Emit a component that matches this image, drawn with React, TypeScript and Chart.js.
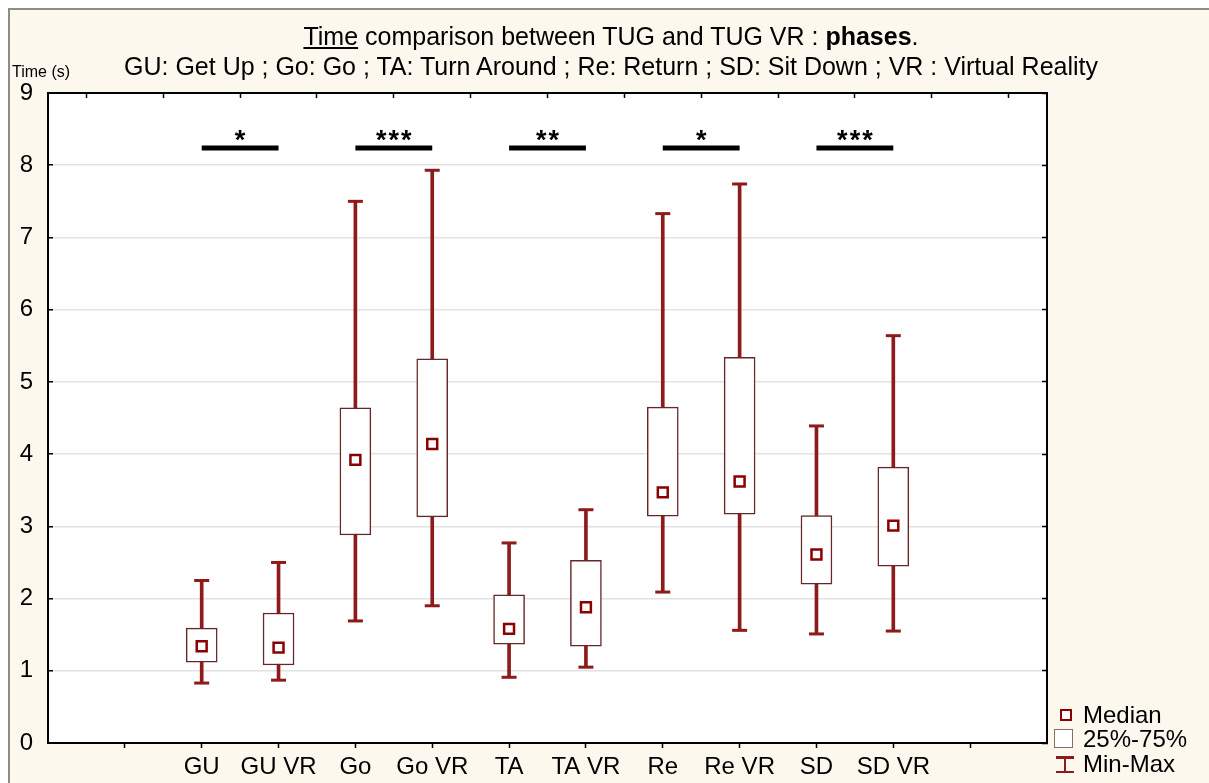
import React, { useEffect, useRef } from 'react';
import { Chart, registerables } from 'chart.js';

Chart.register(...registerables);

// ---- data ----
const categories = ['GU', 'GU VR', 'Go', 'Go VR', 'TA', 'TA VR', 'Re', 'Re VR', 'SD', 'SD VR'];
const minValues = [0.83, 0.87, 1.69, 1.9, 0.91, 1.05, 2.09, 1.56, 1.51, 1.55];
const q1Values = [1.12, 1.08, 2.88, 3.13, 1.37, 1.34, 3.14, 3.17, 2.2, 2.45];
const medianValues = [1.34, 1.32, 3.92, 4.14, 1.58, 1.88, 3.47, 3.62, 2.61, 3.01];
const q3Values = [1.59, 1.8, 4.64, 5.32, 2.05, 2.53, 4.65, 5.34, 3.15, 3.82];
const maxValues = [2.25, 2.5, 7.5, 7.93, 2.77, 3.23, 7.33, 7.74, 4.39, 5.64];
const sigPairs = [[0, 1], [2, 3], [4, 5], [6, 7], [8, 9]];
const sigMarks = ['*', '***', '**', '*', '***'];
const sigLevel = 8.24;
const yMin = 0;
const yMax = 9;
const yStep = 1;
const titleLine2 = 'GU: Get Up ; Go: Go ; TA: Turn Around ; Re: Return ; SD: Sit Down ; VR : Virtual Reality';
const yAxisTitle = 'Time (s)';
const legendLabels = ['Median', '25%-75%', 'Min-Max'];

// axis slots: two empty slots before the first category, total 13 intervals
const firstSlot = 2;
const slotCount = categories.length + 3;

const SANS = '"Liberation Sans", Arial, sans-serif';
const RED = '#8e1b1b';
const MED = '#8b0000';
const BOXLINE = '#64282a';

const bgPlugin = {
  id: 'plotBg',
  beforeDraw(chart: any) {
    const { ctx, chartArea } = chart;
    ctx.save();
    ctx.fillStyle = '#ffffff';
    ctx.fillRect(chartArea.left, chartArea.top, chartArea.right - chartArea.left, chartArea.bottom - chartArea.top);
    ctx.restore();
  },
};

const sigPlugin = {
  id: 'sigMarks',
  afterDatasetsDraw(chart: any) {
    const { ctx } = chart;
    const xs = chart.scales.x;
    const ys = chart.scales.y;
    ctx.save();
    ctx.font = 'bold 27px "Liberation Sans", Arial, sans-serif';
    ctx.fillStyle = '#000';
    ctx.textAlign = 'center';
    ctx.textBaseline = 'alphabetic';
    try { (ctx as any).letterSpacing = '2px'; } catch (e) { /* ignore */ }
    sigPairs.forEach(([a, b], i) => {
      const cx = (xs.getPixelForValue(a + firstSlot) + xs.getPixelForValue(b + firstSlot)) / 2;
      const cy = ys.getPixelForValue(sigLevel);
      ctx.fillText(sigMarks[i], cx + 1, cy + 1);
    });
    ctx.restore();
  },
};

const innerTicks = (s: any) => {
  s.ticks = s.ticks.filter((t: any) => t.value > 0 && t.value < slotCount);
};

export default function App() {
  const ref = useRef<HTMLCanvasElement | null>(null);

  useEffect(() => {
    if (!ref.current) return;
    const xOf = (i: number) => i + firstSlot;
    const datasets: any[] = [
      {
        type: 'bar',
        data: categories.map((_, i) => ({ x: xOf(i), y: [minValues[i], maxValues[i]] })),
        backgroundColor: RED,
        borderWidth: 0,
        barThickness: 3,
        grouped: false,
        order: 4,
      },
      {
        type: 'bar',
        data: categories.map((_, i) => ({ x: xOf(i), y: [q1Values[i], q3Values[i]] })),
        backgroundColor: '#ffffff',
        borderColor: BOXLINE,
        borderWidth: 1.5,
        borderSkipped: false,
        barThickness: 31,
        grouped: false,
        order: 3,
      },
      {
        type: 'scatter',
        data: categories.flatMap((_, i) => [
          { x: xOf(i), y: minValues[i] },
          { x: xOf(i), y: maxValues[i] },
        ]),
        pointStyle: 'line',
        pointRadius: 7.5,
        pointBorderWidth: 3,
        pointBorderColor: RED,
        borderColor: RED,
        order: 2,
      },
      {
        type: 'scatter',
        data: categories.map((_, i) => ({ x: xOf(i), y: medianValues[i] })),
        pointStyle: 'rect',
        pointRadius: 7,
        pointBackgroundColor: '#ffffff',
        pointBorderColor: MED,
        pointBorderWidth: 2.5,
        order: 1,
      },
      ...sigPairs.map(([a, b]) => ({
        type: 'line',
        data: [
          { x: xOf(a), y: sigLevel },
          { x: xOf(b), y: sigLevel },
        ],
        borderColor: '#000',
        borderWidth: 5,
        borderCapStyle: 'butt',
        pointRadius: 0,
        order: 0,
      })),
    ];

    const chart = new Chart(ref.current, {
      type: 'bar',
      data: { datasets },
      options: {
        responsive: false,
        animation: false,
        devicePixelRatio: 1,
        layout: { padding: 0 },
        plugins: { legend: { display: false }, tooltip: { enabled: false }, title: { display: false } },
        scales: {
          x: {
            type: 'linear',
            position: 'bottom',
            min: 0,
            max: slotCount,
            offset: false,
            afterBuildTicks: innerTicks,
            ticks: {
              stepSize: 1,
              autoSkip: false,
              maxRotation: 0,
              padding: 5,
              color: '#000',
              font: { family: SANS, size: 24 },
              callback: (v: any) => categories[Number(v) - firstSlot] ?? '',
            },
            grid: { drawOnChartArea: false, drawTicks: true, tickLength: 5, tickColor: '#000', tickWidth: 1.5, offset: false },
            border: { display: true, color: '#000', width: 2 },
            afterFit: (s: any) => { s.height = 40; },
          },
          x2: {
            type: 'linear',
            axis: 'x',
            position: 'top',
            min: 0,
            max: slotCount,
            offset: false,
            afterBuildTicks: innerTicks,
            ticks: { stepSize: 1, display: false },
            grid: { drawOnChartArea: false, drawTicks: true, tickLength: -5, tickColor: '#000', tickWidth: 1.5 },
            border: { display: true, color: '#000', width: 2 },
            afterFit: (s: any) => { s.height = 93; },
          },
          y: {
            type: 'linear',
            position: 'left',
            min: yMin,
            max: yMax,
            ticks: { stepSize: yStep, padding: 20, color: '#000', font: { family: SANS, size: 24 } },
            grid: { color: '#e2e2e2', lineWidth: 1.5, drawTicks: true, tickLength: -5, tickColor: '#000', tickWidth: 1.5 },
            border: { display: true, color: '#000', width: 2 },
            afterFit: (s: any) => { s.width = 48; },
          },
          y2: {
            type: 'linear',
            axis: 'y',
            position: 'right',
            min: yMin,
            max: yMax,
            ticks: { stepSize: yStep, display: false },
            grid: { drawOnChartArea: false, drawTicks: true, tickLength: -5, tickColor: '#000', tickWidth: 1.5 },
            border: { display: true, color: '#000', width: 2 },
            afterFit: (s: any) => { s.width = 162; },
          },
        },
      } as any,
      plugins: [bgPlugin, sigPlugin],
    });
    return () => chart.destroy();
  }, []);

  const txt: React.CSSProperties = { position: 'fixed', fontFamily: SANS, color: '#000', whiteSpace: 'nowrap', margin: 0 };

  return (
    <div>
      <div
        style={{
          position: 'fixed', left: 8, top: 8, right: 0, bottom: 0,
          background: '#fdf8ed', borderLeft: '2px solid #8c8c8c', borderTop: '2px solid #8c8c8c',
        }}
      />
      <canvas ref={ref} width={1209} height={783} style={{ position: 'fixed', left: 0, top: 0 }} />
      <div style={{ ...txt, left: 0, width: 1222, top: 22, textAlign: 'center', fontSize: 25, lineHeight: '28px' }}>
        <u>Time</u> comparison between TUG and TUG VR : <b>phases</b>.
      </div>
      <div style={{ ...txt, left: 0, width: 1222, top: 52, textAlign: 'center', fontSize: 25, lineHeight: '28px' }}>
        {titleLine2}
      </div>
      <div style={{ ...txt, left: 12, top: 63, fontSize: 16, lineHeight: '18px' }}>{yAxisTitle}</div>

      {/* legend */}
      <div style={{ position: 'fixed', left: 1060, top: 709, width: 12, height: 12, boxSizing: 'border-box', border: `2.5px solid ${MED}`, background: '#fff' }} />
      <div style={{ ...txt, left: 1083, top: 701, fontSize: 24, lineHeight: '28px' }}>{legendLabels[0]}</div>
      <div style={{ position: 'fixed', left: 1054, top: 729, width: 19, height: 19, boxSizing: 'border-box', border: '1.5px solid #8a6a6a', background: '#fff' }} />
      <div style={{ ...txt, left: 1083, top: 725, fontSize: 24, lineHeight: '28px' }}>{legendLabels[1]}</div>
      <div style={{ position: 'fixed', left: 1056, top: 756, width: 18, height: 2.5, background: RED }} />
      <div style={{ position: 'fixed', left: 1063.75, top: 756, width: 2.5, height: 17, background: RED }} />
      <div style={{ position: 'fixed', left: 1056, top: 770.5, width: 18, height: 2.5, background: RED }} />
      <div style={{ ...txt, left: 1083, top: 750, fontSize: 24, lineHeight: '28px' }}>{legendLabels[2]}</div>
    </div>
  );
}
